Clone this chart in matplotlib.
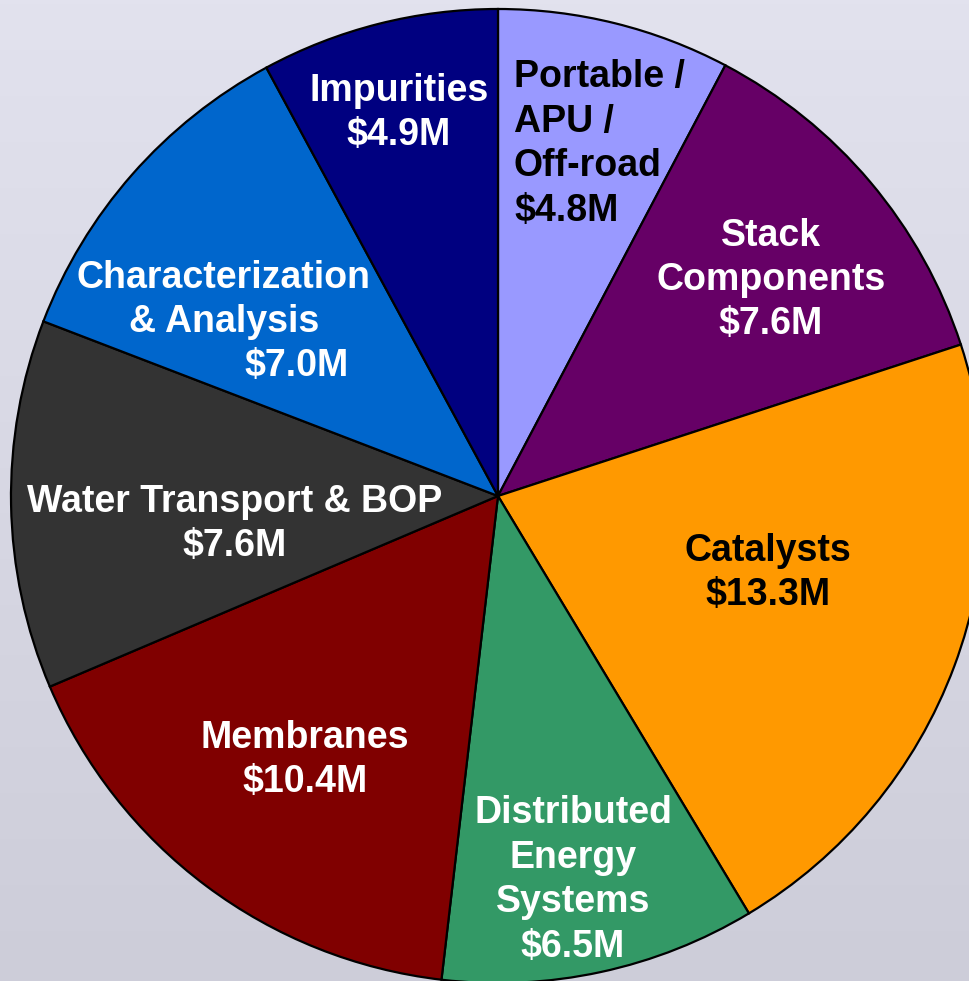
import numpy as np
import matplotlib
matplotlib.use('Agg')
import matplotlib.pyplot as plt

# funding by topic, clockwise from 12 o'clock
topics = ['Portable /\nAPU /\nOff-road', 'Stack\nComponents', 'Catalysts',
          'Distributed\nEnergy\nSystems', 'Membranes', 'Water Transport & BOP',
          'Characterization\n& Analysis', 'Impurities']
funding = [4.8, 7.6, 13.3, 6.5, 10.4, 7.6, 7.0, 4.9]
colors = ['#9999ff', '#660066', '#ff9900', '#339966', '#800000', '#333333',
          '#0066cc', '#000080']
text_colors = ['black', 'white', 'black', 'white', 'white', 'white', 'white', 'white']

# label placement in pixels (x, y from top), alignment
label_pos = [(514, 144, 'left'), (771, 280, 'center'), (768, 573, 'center'),
             (573, 880, 'center'), (305, 760, 'center'), (235, 524, 'center'),
             (224, 300, 'center'), (399, 113, 'center')]

W, H = 970, 981
fig = plt.figure(figsize=(W / 100, H / 100), dpi=100)
ax = fig.add_axes([0, 0, 1, 1])

grad = np.linspace(0, 1, 256).reshape(-1, 1)
top = np.array([0xe2, 0xe2, 0xee]) / 255
bot = np.array([0xcd, 0xcd, 0xd9]) / 255
img = top + (bot - top) * grad[:, :, None]
ax.imshow(img, extent=(0, W, 0, H), aspect='auto', zorder=0)

ax.pie(funding, colors=colors, startangle=90, counterclock=False,
       center=(498, H - 496), radius=487,
       wedgeprops=dict(edgecolor='black', linewidth=1.6, zorder=2))

font = dict(family=['Liberation Sans', 'DejaVu Sans'], fontweight='bold', fontsize=27)
for name, val, tc, (x, y, ha) in zip(topics, funding, text_colors, label_pos):
    if name.startswith('Character'):
        ax.text(x, H - y, name, color=tc, ha=ha, va='center', linespacing=1.3,
                zorder=3, **font)
        ax.text(297, H - 366, f'${val:.1f}M', color=tc, ha='center', va='center',
                zorder=3, **font)
    else:
        ax.text(x, H - y, f'{name}\n${val:.1f}M', color=tc, ha=ha, va='center',
                multialignment=ha, linespacing=1.3, zorder=3, **font)

ax.set_xlim(0, W)
ax.set_ylim(0, H)
ax.axis('off')
fig.savefig('out.png', dpi=100)
